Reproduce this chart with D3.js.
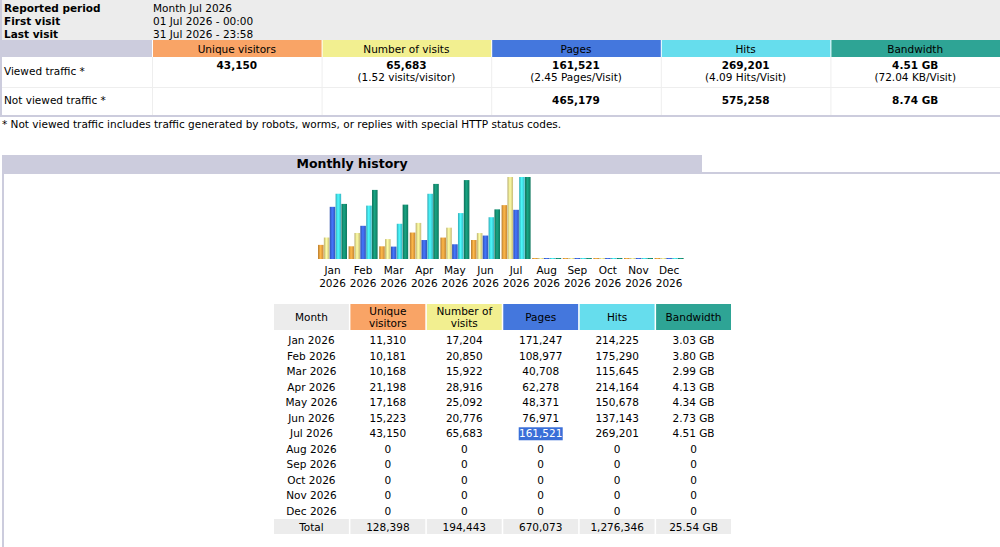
<!DOCTYPE html>
<html><head><meta charset="utf-8">
<script src="https://cdn.jsdelivr.net/npm/d3@7"></script>
<style>
body{margin:0;background:#fff;font-family:"DejaVu Sans",Verdana,sans-serif;}
text{font-size:10.5px;fill:#000;}
</style></head><body>
<svg id="pg" width="1000" height="547"></svg>
<script>
// data
const months = ["Jan","Feb","Mar","Apr","May","Jun","Jul","Aug","Sep","Oct","Nov","Dec"];
const year = "2026";
const series = ["Unique visitors","Number of visits","Pages","Hits","Bandwidth"];
const headColors = ["#f9a466","#f2ef90","#4477dd","#66dded","#2ea495"];
const barColors = ["#e39a3c","#e6d98a","#3a63d6","#3fd2e2","#138a6e"];
const visitors = [11310,10181,10168,21198,17168,15223,43150,0,0,0,0,0];
const visits   = [17204,20850,15922,28916,25092,20776,65683,0,0,0,0,0];
const pages    = [171247,108977,40708,62278,48371,76971,161521,0,0,0,0,0];
const hits     = [214225,175290,115645,214164,150678,137143,269201,0,0,0,0,0];
const bandwidth= [3.03,3.80,2.99,4.13,4.34,2.73,4.51,0,0,0,0,0]; // GB
const totals = ["128,398","194,443","670,073","1,276,346","25.54 GB"];
const summaryTop = [["Reported period","Month Jul 2026"],["First visit","01 Jul 2026 - 00:00"],["Last visit","31 Jul 2026 - 23:58"]];
const viewed = [["43,150",""],["65,683","(1.52 visits/visitor)"],["161,521","(2.45 Pages/Visit)"],["269,201","(4.09 Hits/Visit)"],["4.51 GB","(72.04 KB/Visit)"]];
const notViewed = ["","","465,179","575,258","8.74 GB"];

const svg = d3.select("#pg");
const fmt = d3.format(",");

// summary table
svg.append("rect").attr("x",0).attr("y",0).attr("width",1000).attr("height",40).attr("fill","#ececec");
summaryTop.forEach((r,i)=>{
  svg.append("text").attr("x",4).attr("y",12+i*13).style("font-weight","bold").text(r[0]);
  svg.append("text").attr("x",153).attr("y",12+i*13).text(r[1]);
});
svg.append("rect").attr("x",0).attr("y",40).attr("width",152).attr("height",17).attr("fill","#ccccdd");
const colX = d3.scaleBand().domain(d3.range(5)).range([152,1000]);
series.forEach((s,i)=>{
  const cx = colX(i)+colX.bandwidth()/2;
  svg.append("rect").attr("x",colX(i)+1).attr("y",40).attr("width",colX.bandwidth()-1).attr("height",17).attr("fill",headColors[i]);
  svg.append("text").attr("x",cx).attr("y",52.5).attr("text-anchor","middle").text(s);
  svg.append("text").attr("x",cx).attr("y",69).attr("text-anchor","middle").style("font-weight","bold").text(viewed[i][0]);
  svg.append("text").attr("x",cx).attr("y",81).attr("text-anchor","middle").text(viewed[i][1]);
  svg.append("text").attr("x",cx).attr("y",104).attr("text-anchor","middle").style("font-weight","bold").text(notViewed[i]);
  svg.append("line").attr("x1",colX(i)+0.5).attr("x2",colX(i)+0.5).attr("y1",57).attr("y2",115).attr("stroke","#eee");
});
svg.append("line").attr("x1",0).attr("x2",1000).attr("y1",87.5).attr("y2",87.5).attr("stroke","#eee");
svg.append("text").attr("x",4).attr("y",75).text("Viewed traffic *");
svg.append("text").attr("x",4).attr("y",104).text("Not viewed traffic *");
svg.append("rect").attr("x",0).attr("y",115).attr("width",1000).attr("height",2).attr("fill","#ccccdd");
svg.append("rect").attr("x",0).attr("y",0).attr("width",2).attr("height",117).attr("fill","#ccccdd");
svg.append("text").attr("x",2).attr("y",128).text("* Not viewed traffic includes traffic generated by robots, worms, or replies with special HTTP status codes.");

// monthly history header
svg.append("rect").attr("x",2).attr("y",155).attr("width",700).attr("height",17).attr("fill","#ccccdd");
svg.append("text").attr("x",352).attr("y",168).attr("text-anchor","middle").style("font-weight","bold").style("font-size","12.5px").text("Monthly history");
svg.append("rect").attr("x",2).attr("y",172).attr("width",998).attr("height",2).attr("fill","#ccccdd");
svg.append("rect").attr("x",2).attr("y",172).attr("width",2).attr("height",375).attr("fill","#ccccdd");

// gradients for bars
const defs = svg.append("defs");
barColors.forEach((c,i)=>{
  const g = defs.append("linearGradient").attr("id","g"+i);
  g.append("stop").attr("offset","0%").attr("stop-color",d3.color(c).darker(0.6));
  g.append("stop").attr("offset","45%").attr("stop-color",d3.color(c).brighter(0.5));
  g.append("stop").attr("offset","100%").attr("stop-color",d3.color(c).darker(0.4));
});

// chart
const chartBase = 259, chartTop = 177;
const xM = d3.scaleBand().domain(months).range([318,318+12*30.6]).paddingInner(0);
const xS = d3.scaleBand().domain(d3.range(5)).range([0,29]).paddingInner(0.05).paddingOuter(0);
const yVis = d3.scaleLinear().domain([0,d3.max(visits)]).range([chartBase,chartTop]);
const yHit = d3.scaleLinear().domain([0,d3.max(hits)]).range([chartBase,chartTop]);
const yBw = d3.scaleLinear().domain([0,d3.max(bandwidth)]).range([chartBase,chartTop]);
const vals = [visitors,visits,pages,hits,bandwidth];
const scales = [yVis,yVis,yHit,yHit,yBw];
vals.forEach((arr,si)=>{
  svg.append("g").selectAll("rect").data(arr).join("rect")
    .attr("x",(d,i)=>xM(months[i])+xS(si))
    .attr("width",xS.bandwidth())
    .attr("y",d=>Math.min(scales[si](d),chartBase-1))
    .attr("height",d=>Math.max(chartBase-scales[si](d),1))
    .attr("fill","url(#g"+si+")");
});
const mAxis = svg.append("g");
months.forEach(m=>{
  const cx = xM(m)+14.5;
  mAxis.append("text").attr("x",cx).attr("y",274).attr("text-anchor","middle").text(m);
  mAxis.append("text").attr("x",cx).attr("y",287).attr("text-anchor","middle").text(year);
});

// bottom table
const tX = d3.scaleBand().domain(d3.range(6)).range([274,731]).paddingInner(0.02);
const headers = ["Month",["Unique","visitors"],["Number of","visits"],"Pages","Hits","Bandwidth"];
const hCol = ["#ececec"].concat(headColors);
headers.forEach((h,i)=>{
  svg.append("rect").attr("x",tX(i)).attr("y",304).attr("width",tX.bandwidth()).attr("height",26).attr("fill",hCol[i]);
  const cx = tX(i)+tX.bandwidth()/2;
  if(Array.isArray(h)){
    svg.append("text").attr("x",cx).attr("y",315).attr("text-anchor","middle").text(h[0]);
    svg.append("text").attr("x",cx).attr("y",327).attr("text-anchor","middle").text(h[1]);
  } else svg.append("text").attr("x",cx).attr("y",321).attr("text-anchor","middle").text(h);
});
const rowY = d3.scaleLinear().domain([0,11]).range([344,515]);
months.forEach((m,r)=>{
  const cells = [m+" "+year, fmt(visitors[r]), fmt(visits[r]), fmt(pages[r]), fmt(hits[r]), bandwidth[r]?bandwidth[r].toFixed(2)+" GB":"0"];
  cells.forEach((c,i)=>{
    const cx = tX(i)+tX.bandwidth()/2;
    if(r===6 && i===3){
      svg.append("rect").attr("x",cx-22).attr("y",rowY(r)-10).attr("width",44).attr("height",13).attr("fill","#3a6fd8");
      svg.append("text").attr("x",cx).attr("y",rowY(r)).attr("text-anchor","middle").style("fill","#fff").text(c);
    } else svg.append("text").attr("x",cx).attr("y",rowY(r)).attr("text-anchor","middle").text(c);
  });
});
["Total"].concat(totals).forEach((c,i)=>{
  svg.append("rect").attr("x",tX(i)).attr("y",519).attr("width",tX.bandwidth()).attr("height",15).attr("fill","#ececec");
  svg.append("text").attr("x",tX(i)+tX.bandwidth()/2).attr("y",531).attr("text-anchor","middle").text(c);
});
</script></body></html>
